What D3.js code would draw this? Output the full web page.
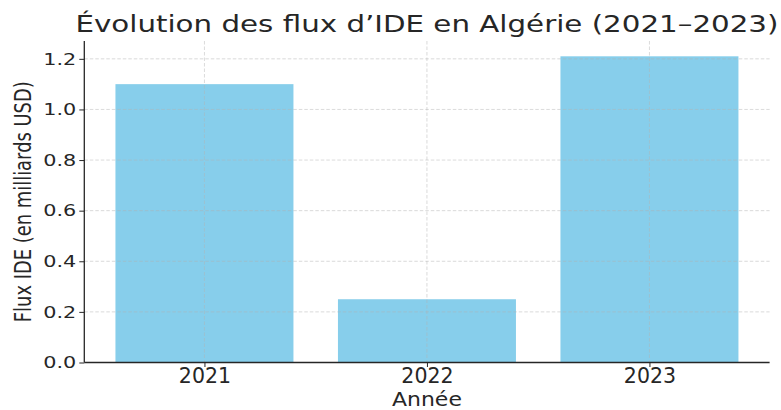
<!DOCTYPE html>
<html>
<head>
<meta charset="utf-8">
<script src="https://cdn.jsdelivr.net/npm/d3@7"></script>
<style>
  body { margin: 0; background: #fff; }
  text { font-family: "DejaVu Sans", sans-serif; fill: #262626; }
</style>
</head>
<body>
<svg id="canvas" width="781" height="410"></svg>
<script>
let years = ['2021', '2022', '2023']
let flows = [1.10, 0.25, 1.21]
let yTicks = [0, 0.2, 0.4, 0.6, 0.8, 1.0, 1.2]

let canvas = d3.select('#canvas')

let plotLeft = 84.3, plotRight = 769.6, plotTop = 41, plotBottom = 362.5

// positions like matplotlib: bar width 0.8, 5% margins
let xScale = d3.scaleLinear().domain([-0.54, 2.54]).range([plotLeft, plotRight])
let yScale = d3.scaleLinear().domain([0, 1.2705]).range([plotBottom, plotTop])

// bars
canvas.selectAll('rect.bar')
  .data(flows)
  .enter()
  .append('rect')
  .attr('class', 'bar')
  .attr('x', (d, i) => xScale(i - 0.4))
  .attr('width', (d, i) => xScale(i + 0.4) - xScale(i - 0.4))
  .attr('y', (d) => yScale(d))
  .attr('height', (d) => yScale(0) - yScale(d))
  .attr('fill', '#87ceeb')

// grid on top of bars
let grid = canvas.append('g')
  .attr('stroke', '#b0b0b0')
  .attr('stroke-opacity', 0.6)
  .attr('stroke-dasharray', '3.5,2')
  .attr('stroke-width', 0.8)

grid.selectAll('line.h')
  .data(yTicks.slice(1))
  .enter()
  .append('line')
  .attr('x1', plotLeft).attr('x2', plotRight)
  .attr('y1', (d) => yScale(d)).attr('y2', (d) => yScale(d))

grid.selectAll('line.v')
  .data(years)
  .enter()
  .append('line')
  .attr('x1', (d, i) => xScale(i)).attr('x2', (d, i) => xScale(i))
  .attr('y1', plotTop).attr('y2', plotBottom)

// axes
let yAxis = d3.axisLeft(yScale)
  .tickValues(yTicks)
  .tickFormat(d3.format('.1f'))
  .tickSize(5)
  .tickPadding(3)

let yG = canvas.append('g')
  .attr('transform', 'translate(' + plotLeft + ',0)')
  .call(yAxis)
yG.select('.domain').attr('d', 'M0,' + plotTop + 'V' + plotBottom)
// the picture is wider than tall, so stretch the labels sideways
yG.selectAll('.tick text')
  .style('font-size', '16.5px')
  .attr('textLength', 33)
  .attr('lengthAdjust', 'spacingAndGlyphs')

let xAxis = d3.axisBottom(xScale)
  .tickValues([0, 1, 2])
  .tickFormat((d) => years[d])
  .tickSize(4.5)
  .tickPadding(1.5)

let xG = canvas.append('g')
  .attr('transform', 'translate(0,' + plotBottom + ')')
  .call(xAxis)
xG.select('.domain').attr('d', 'M' + plotLeft + ',0H' + plotRight)
xG.selectAll('.tick text').style('font-size', '20.5px')

canvas.selectAll('.domain').attr('stroke', '#262626').attr('stroke-width', 1.3)
canvas.selectAll('.tick line').attr('stroke', '#262626').attr('stroke-width', 1)
canvas.selectAll('.tick text')
  .style('font-family', '"DejaVu Sans", sans-serif')
  .attr('fill', '#262626')

// labels
canvas.append('text')
  .attr('x', (plotLeft + plotRight) / 2)
  .attr('y', 32)
  .attr('text-anchor', 'middle')
  .style('font-size', '22.5px')
  .attr('textLength', 703)
  .attr('lengthAdjust', 'spacingAndGlyphs')
  .text('Évolution des flux d’IDE en Algérie (2021–2023)')

canvas.append('text')
  .attr('x', (plotLeft + plotRight) / 2)
  .attr('y', 406)
  .attr('text-anchor', 'middle')
  .style('font-size', '19px')
  .attr('textLength', 70)
  .attr('lengthAdjust', 'spacingAndGlyphs')
  .text('Année')

canvas.append('text')
  .attr('transform', 'translate(31,' + (plotTop + plotBottom) / 2 + ') rotate(-90)')
  .attr('text-anchor', 'middle')
  .style('font-size', '23px')
  .attr('textLength', 241)
  .attr('lengthAdjust', 'spacingAndGlyphs')
  .text('Flux IDE (en milliards USD)')
</script>
</body>
</html>
